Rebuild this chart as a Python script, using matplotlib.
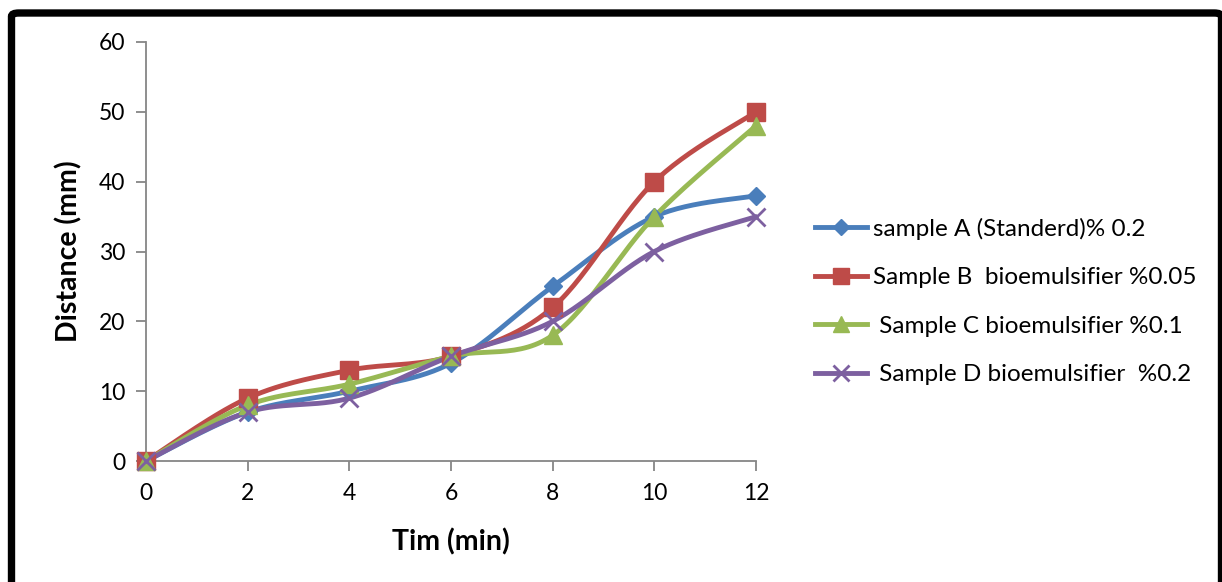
import numpy as np
import matplotlib
matplotlib.use("Agg")
import matplotlib.pyplot as plt
from matplotlib.patches import FancyBboxPatch
from matplotlib.lines import Line2D

time_min = [0, 2, 4, 6, 8, 10, 12]
sample_a = [0, 7, 10, 14, 25, 35, 38]
sample_b = [0, 9, 13, 15, 22, 40, 50]
sample_c = [0, 8, 11, 15, 18, 35, 48]
sample_d = [0, 7, 9, 15, 20, 30, 35]
labels = ["sample A (Standerd)% 0.2",
          "Sample B  bioemulsifier %0.05",
          " Sample C bioemulsifier %0.1",
          " Sample D bioemulsifier  %0.2"]
colors = ["#4A7EBB", "#BE4B48", "#98B954", "#7D60A0"]
markers = ["D", "s", "^", "x"]
msizes = [9, 13, 13, 13]
yticks = [0, 10, 20, 30, 40, 50, 60]
xticks = [0, 2, 4, 6, 8, 10, 12]

plt.rcParams['font.family'] = ['Lato', 'DejaVu Sans']


def smooth(x, y, n=30):
    # Excel-like smoothing: cubic Bezier with Catmull-Rom control points
    x = np.asarray(x, float); y = np.asarray(y, float)
    P = np.column_stack([x, y])
    Pe = np.vstack([P[0], P, P[-1]])
    out = []
    t = np.linspace(0, 1, n)[:, None]
    for i in range(len(P) - 1):
        p0, p1, p2, p3 = Pe[i], Pe[i + 1], Pe[i + 2], Pe[i + 3]
        c1 = p1 + (p2 - p0) / 6.0
        c2 = p2 - (p3 - p1) / 6.0
        seg = ((1 - t) ** 3) * p1 + 3 * ((1 - t) ** 2) * t * c1 + 3 * (1 - t) * t ** 2 * c2 + t ** 3 * p2
        out.append(seg if i == 0 else seg[1:])
    s = np.vstack(out)
    return s[:, 0], s[:, 1]


W, H = 1222, 582
fig = plt.figure(figsize=(W / 100, H / 100), dpi=100)
ax = fig.add_axes([146 / W, 1 - 461 / H, (756 - 146) / W, (461 - 42) / H])

series = [sample_a, sample_b, sample_c, sample_d]
handles = []
for ys, c, m, ms, lab in zip(series, colors, markers, msizes, labels):
    sx, sy = smooth(time_min, ys)
    ax.plot(sx, sy, color=c, lw=3.5, solid_capstyle='round', zorder=2, clip_on=False)
    if m == "x":
        ax.plot(time_min, ys, linestyle='none', marker=m, ms=ms, mew=2.0, color=c, zorder=3, clip_on=False)
    else:
        ax.plot(time_min, ys, linestyle='none', marker=m, ms=ms, mfc=c, mec=c, zorder=3, clip_on=False)
    handles.append(Line2D([0], [0], color=c, lw=3.5, marker=m, ms=ms * 0.85,
                          mew=2.0 if m == "x" else 1.0, mfc=c, mec=c))

ax.set_xlim(0, 12)
ax.set_ylim(0, 60)
ax.set_xticks(xticks)
ax.set_yticks(yticks)
for s in ['top', 'right']:
    ax.spines[s].set_visible(False)
for s in ['left', 'bottom']:
    ax.spines[s].set_color('#868686')
    ax.spines[s].set_linewidth(1.3)
ax.tick_params(axis='both', colors='#868686', labelcolor='black', labelsize=16.5,
               length=7, width=1.3, direction='out')
ax.tick_params(axis='x', pad=9)
ax.tick_params(axis='y', pad=8)
ax.set_xlabel("Tim (min)", fontsize=20.5, fontweight='bold', labelpad=17)
ax.set_ylabel("Distance (mm)", fontsize=20.5, fontweight='bold', labelpad=12)

leg = ax.legend(handles, labels, loc='center left', bbox_to_anchor=(803 / W, 1 - 301.5 / H),
                bbox_transform=fig.transFigure, frameon=False, fontsize=17.5,
                handlelength=2.14, handletextpad=0.25, labelspacing=1.13, borderpad=0)

# outer frame
border = FancyBboxPatch((11.5 / W, -0.05), (1221.5 - 11.5) / W, (1 - 13 / H) + 0.05,
                        boxstyle="round,pad=0,rounding_size=0.006",
                        transform=fig.transFigure, fill=False, edgecolor='black',
                        linewidth=5.3, clip_on=False)
fig.add_artist(border)

fig.savefig("out.png", dpi=100)
